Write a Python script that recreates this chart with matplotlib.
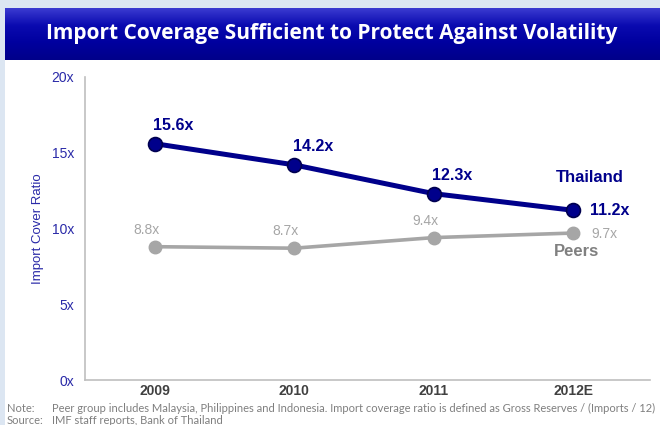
import matplotlib.pyplot as plt
import numpy as np
from matplotlib.colors import LinearSegmentedColormap

years = ["2009", "2010", "2011", "2012E"]
thailand = [15.6, 14.2, 12.3, 11.2]
peers = [8.8, 8.7, 9.4, 9.7]
yticks = [0, 5, 10, 15, 20]

W, H = 660, 425
fig = plt.figure(figsize=(W / 100, H / 100), dpi=100)
fig.patch.set_facecolor("white")

def box(x0, y0, x1, y1):
    # pixel box (top-left origin) -> figure fraction rect
    return [x0 / W, 1 - y1 / H, (x1 - x0) / W, (y1 - y0) / H]

# light strips on the top and left edges
strip = "#dce6f2"
fig.add_artist(plt.Rectangle((0, 0), 5 / W, 1, transform=fig.transFigure, color=strip, lw=0))
fig.add_artist(plt.Rectangle((0, 1 - 8 / H), 1, 8 / H, transform=fig.transFigure, color=strip, lw=0))

# title banner with vertical gradient
tax = fig.add_axes(box(4, 8, 660, 60))
grad = np.linspace(0, 1, 100).reshape(-1, 1)
cmap = LinearSegmentedColormap.from_list("bar", ["#3a3ad0", "#0a0ab0", "#00009e", "#00008a"])
tax.imshow(grad, aspect="auto", cmap=cmap, extent=[0, 1, 0, 1], origin="upper")
tax.set_axis_off()
tax.text(0.5, 0.5, "Import Coverage Sufficient to Protect Against Volatility",
         color="white", fontsize=15, fontweight="bold", family="Open Sans",
         ha="center", va="center", transform=tax.transAxes)

# main chart
ax = fig.add_axes(box(85, 77, 650, 380))
x = np.arange(len(years))
navy = "#00008b"
grey = "#a6a6a6"

ax.plot(x, peers, color=grey, lw=2.6, marker="o", ms=9, mfc=grey, mec=grey, zorder=2)
ax.plot(x, thailand, color=navy, lw=3.6, marker="o", ms=10, mfc=navy, mec="#000050",
        mew=1.2, zorder=3)

for i, v in enumerate(thailand[:3]):
    ax.annotate(f"{v}x", (x[i], v), xytext=(-1, 8), textcoords="offset points",
                ha="left", va="bottom", color=navy, fontsize=11.5, fontweight="bold",
                family="Liberation Sans")
ax.annotate(f"{thailand[3]}x", (x[3], thailand[3]), xytext=(12, 0), textcoords="offset points",
            ha="left", va="center", color=navy, fontsize=11.5, fontweight="bold",
            family="Liberation Sans")
for i, v in enumerate(peers[:3]):
    ax.annotate(f"{v}x", (x[i], v), xytext=(-6, 7), textcoords="offset points",
                ha="center", va="bottom", color=grey, fontsize=10, family="Liberation Sans")
ax.annotate(f"{peers[3]}x", (x[3], peers[3]), xytext=(13, -1), textcoords="offset points",
            ha="left", va="center", color=grey, fontsize=10, family="Liberation Sans")

ax.annotate("Thailand", (x[3], thailand[3]), xytext=(12, 18), textcoords="offset points",
            ha="center", va="bottom", color=navy, fontsize=12, fontweight="bold",
            family="Liberation Sans")
ax.annotate("Peers", (x[3], peers[3]), xytext=(2, -13), textcoords="offset points",
            ha="center", va="center", color="#808080", fontsize=12, fontweight="bold",
            family="Liberation Sans")

ax.set_xlim(-0.5, 3.55)
ax.set_ylim(0, 20)
ax.set_xticks(x)
ax.set_xticklabels(years, fontsize=10, fontweight="bold", color="#404040", family="Liberation Sans")
ax.set_yticks(yticks)
ax.set_yticklabels([f"{t}x" for t in yticks], fontsize=10, color="#2a2aa8", family="Liberation Sans")
ax.tick_params(length=0, pad=8)
ax.tick_params(axis="x", pad=3)
for s in ["top", "right"]:
    ax.spines[s].set_visible(False)
for s in ["left", "bottom"]:
    ax.spines[s].set_color("#bfbfbf")
    ax.spines[s].set_linewidth(1.2)
ax.set_ylabel("Import Cover Ratio", color="#2a2aa8", fontsize=9.5, family="Liberation Sans",
              labelpad=5)

# footnotes
foot = dict(fontsize=8, color="#7f7f7f", family="Lato", va="center")
fig.text(7 / W, 1 - 408 / H, "Note:", **foot)
fig.text(52 / W, 1 - 408 / H,
         "Peer group includes Malaysia, Philippines and Indonesia. Import coverage ratio is defined as Gross Reserves / (Imports / 12)",
         **foot)
fig.text(7 / W, 1 - 421 / H, "Source:", **foot)
fig.text(52 / W, 1 - 421 / H, "IMF staff reports, Bank of Thailand", **foot)

fig.savefig("out.png", dpi=100)
